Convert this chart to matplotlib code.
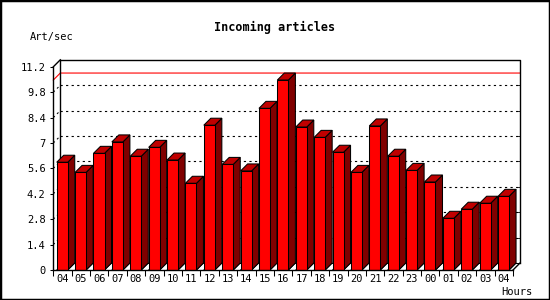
import matplotlib.pyplot as plt
from matplotlib.patches import Polygon, Rectangle

# hourly incoming article rate (art/sec)
hours = ['04', '05', '06', '07', '08', '09', '10', '11', '12', '13', '14', '15', '16',
         '17', '18', '19', '20', '21', '22', '23', '00', '01', '02', '03', '04']
rates = [5.94, 5.38, 6.43, 7.06, 6.27, 6.76, 6.06, 4.78, 7.98, 5.82, 5.46, 8.91, 10.47,
         7.88, 7.31, 6.49, 5.38, 7.94, 6.27, 5.49, 4.85, 2.85, 3.35, 3.68, 4.06]
y_ticks = [0, 1.4, 2.8, 4.2, 5.6, 7, 8.4, 9.8, 11.2]
y_labels = ['0', '1.4', '2.8', '4.2', '5.6', '7', '8.4', '9.8', '11.2']

W, H = 550, 300
FONT = 'DejaVu Sans Mono'

fig = plt.figure(figsize=(W / 100, H / 100), dpi=100)
ax = fig.add_axes([53.3 / W, 30 / H, 459.7 / W, 203.2 / H])
n = len(rates)
ax.set_xlim(-0.5, n - 0.5)
ax.set_ylim(0, y_ticks[-1])

# 3D depth of 7 px, converted to data units
pos = ax.get_position()
dx = 7 / (pos.width * W / n)
dy = 7 / (pos.height * H / y_ticks[-1])

x0, x1 = -0.5, n - 0.5
top = y_ticks[-1]
kw = dict(clip_on=False)

# back plane gridlines (dotted) and side-wall diagonals
for v in y_ticks[1:-1]:
    ax.plot([x0 + dx, x1 + dx], [v + dy, v + dy], color='black', lw=0.8,
            linestyle=(0, (2, 3)), zorder=1, **kw)
    ax.plot([x0, x0 + dx], [v, v + dy], color='black', lw=0.75,
            linestyle=(0, (2, 3)), zorder=1, **kw)
    ax.plot([x1 + dx - 0.1, x1 + dx], [v + dy, v + dy], color='black', lw=0.6,
            zorder=1, **kw)

# max line
m = max(rates)
ax.plot([x0, x0 + dx, x1 + dx], [m, m + dy, m + dy], color='#ff0000', lw=0.8,
        zorder=1.5, **kw)

# back box
ax.plot([x0 + dx, x0 + dx, x1 + dx, x1 + dx], [dy, top + dy, top + dy, dy],
        color='black', lw=1, zorder=1.6, **kw)
ax.plot([x0, x0 + dx], [top, top + dy], color='black', lw=1, zorder=1.6, **kw)
ax.plot([x1, x1 + dx], [0, dy], color='black', lw=1, zorder=1.6, **kw)
ax.plot([x0 + dx, x1 + dx], [dy, dy], color='black', lw=0.75, zorder=1.6, **kw)

# bars
bw = 0.6
off = -0.5 + 0.185
for i, v in enumerate(rates):
    a = i + off
    b = a + bw
    ax.add_patch(Polygon([(a, 0), (b, 0), (b + dx, dy), (a + dx, dy)],
                         closed=True, fc='#8c8c8c', ec='black', lw=0.75, zorder=2, **kw))
    ax.add_patch(Polygon([(b, 0), (b + dx, dy), (b + dx, v + dy), (b, v)],
                         closed=True, fc='#800000', ec='black', lw=0.75, zorder=3, **kw))
    ax.add_patch(Polygon([(a, v), (b, v), (b + dx, v + dy), (a + dx, v + dy)],
                         closed=True, fc='#c00000', ec='black', lw=0.75, zorder=3, **kw))
ax.bar([i + off for i in range(n)], rates, width=bw, align='edge', color='#ff0000',
       edgecolor='black', linewidth=0.75, zorder=4)

# axes
for s in ['top', 'right']:
    ax.spines[s].set_visible(False)
for s in ['left', 'bottom']:
    ax.spines[s].set_linewidth(1)
    ax.spines[s].set_zorder(5)
ax.patch.set_visible(False)

ax.set_yticks(y_ticks)
ax.set_yticklabels(y_labels, fontfamily=FONT, fontsize=7.5)
ax.tick_params(axis='y', direction='out', length=2.5, width=0.75, pad=3)

ax.set_xticks([i - 0.5 for i in range(n)] + [n - 0.5])
ax.set_xticklabels([])
ax.set_xticks(range(n), minor=True)
ax.set_xticklabels(hours, minor=True, fontfamily=FONT, fontsize=7.5)
ax.tick_params(axis='x', which='major', direction='out', length=4, width=0.75)
ax.tick_params(axis='x', which='minor', length=0, pad=3)

# texts
fig.text(275 / W, 1 - 27 / H, 'Incoming articles', ha='center', va='center',
         fontfamily=FONT, fontsize=8.5, fontweight='bold')
fig.text(30 / W, 1 - 37 / H, 'Art/sec', ha='left', va='center', fontfamily=FONT, fontsize=7.5)
fig.text(533 / W, 1 - 292 / H, 'Hours', ha='right', va='center', fontfamily=FONT, fontsize=7.5)

# outer border
fig.patches.append(Rectangle((0, 0), 1, 1, transform=fig.transFigure, fill=False,
                             edgecolor='black', linewidth=2.5))

fig.savefig('out.png', dpi=100)
